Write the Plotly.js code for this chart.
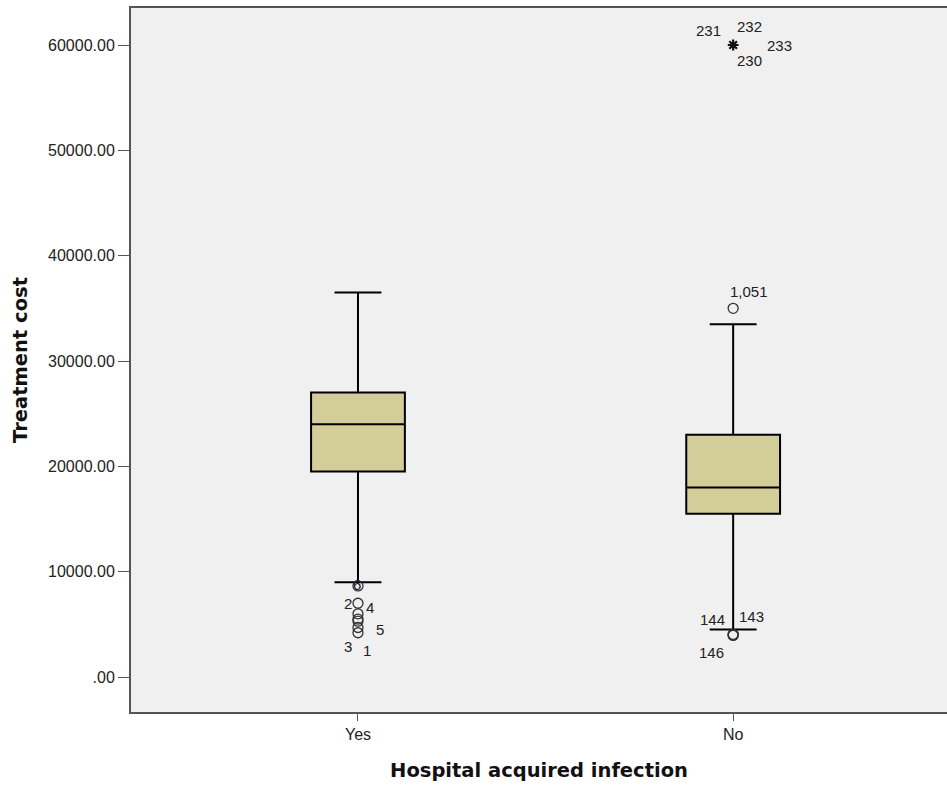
<!DOCTYPE html>
<html>
<head>
<meta charset="utf-8">
<script src="https://cdn.plot.ly/plotly-3.0.1.min.js"></script>
<style>html,body{margin:0;padding:0;background:#fff;}#chart{width:947px;height:785px;}</style>
</head>
<body>
<div id="chart"></div>
<script>
// ---- data ----
const categories = ["Yes", "No"];
const q1Values = [19500, 15500];
const medianValues = [24000, 18000];
const q3Values = [27000, 23000];
const lowerWhisker = [9000, 4500];
const upperWhisker = [36500, 33500];

// mild outliers (circles)
const outlierCategory = ["Yes", "Yes", "Yes", "Yes", "Yes", "Yes", "Yes", "No", "No", "No", "No"];
const outlierValues = [8650, 7000, 6000, 5500, 5300, 4700, 4200, 35000, 4000, 3950, 4050];

// extreme outliers (stars)
const extremeCategory = ["No"];
const extremeValues = [60000];

// case labels
const labelText = ["6", "2", "4", "5", "3", "1", "1,051", "144", "143", "146", "231", "232", "233", "230"];
const labelCategory = ["Yes", "Yes", "Yes", "Yes", "Yes", "Yes", "No", "No", "No", "No", "No", "No", "No", "No"];
const labelValue = [8650, 7000, 7000, 4700, 4200, 4200, 35000, 4000, 4000, 4000, 60000, 60000, 60000, 60000];

// ---- label offsets (layout only) ----
const labelShiftX = [-1, -10, 12, 22, -10, 9, 16, -21, 18, -22, -25, 16, 46, 16];
const labelShiftY = [1, 0, -4, -2, -14, -18, 17, 15, 18, -18, 15, 19, 0, -15];

const boxTrace = {
  type: "box",
  x: categories,
  q1: q1Values,
  median: medianValues,
  q3: q3Values,
  lowerfence: lowerWhisker,
  upperfence: upperWhisker,
  boxpoints: false,
  width: 0.25,
  whiskerwidth: 0.5,
  fillcolor: "#d3cd99",
  line: {color: "#000000", width: 2},
  hoverinfo: "skip",
  showlegend: false
};

const outlierTrace = {
  type: "scatter",
  mode: "markers",
  x: outlierCategory,
  y: outlierValues,
  marker: {symbol: "circle-open", size: 10, color: "#333333", line: {width: 1.3, color: "#333333"}},
  showlegend: false,
  hoverinfo: "skip"
};

const extremeTrace = {
  type: "scatter",
  mode: "markers",
  x: extremeCategory,
  y: extremeValues,
  marker: {symbol: "asterisk-open", size: 9, color: "#111111", line: {width: 2.2, color: "#111111"}},
  showlegend: false,
  hoverinfo: "skip"
};

const labelFont = "Arial, Liberation Sans, sans-serif";
const titleFont = "DejaVu Sans, Verdana, sans-serif";

const annotations = labelText.map((t, i) => ({
  x: labelCategory[i],
  y: labelValue[i],
  xref: "x",
  yref: "y",
  text: t,
  showarrow: false,
  xshift: labelShiftX[i],
  yshift: labelShiftY[i],
  font: {family: labelFont, size: 15, color: "#222222"}
}));

const layout = {
  width: 947,
  height: 785,
  margin: {l: 131, r: 0, t: 8, b: 73},
  paper_bgcolor: "#ffffff",
  plot_bgcolor: "#f0f0f0",
  showlegend: false,
  xaxis: {
    type: "category",
    categoryorder: "array",
    categoryarray: categories,
    range: [-0.605, 1.57],
    showgrid: false,
    zeroline: false,
    showline: true,
    mirror: true,
    linecolor: "#555555",
    linewidth: 2,
    ticks: "outside",
    ticklen: 7,
    tickcolor: "#555555",
    tickfont: {family: labelFont, size: 16, color: "#222222"},
    title: {text: "Hospital acquired infection", standoff: 21,
            font: {family: titleFont, size: 19.5, color: "#111111", weight: "bold"}}
  },
  yaxis: {
    range: [-3323, 63514],
    tickvals: [0, 10000, 20000, 30000, 40000, 50000, 60000],
    ticktext: [".00", "10000.00", "20000.00", "30000.00", "40000.00", "50000.00", "60000.00"],
    showgrid: false,
    zeroline: false,
    showline: true,
    mirror: true,
    linecolor: "#555555",
    linewidth: 2,
    ticks: "outside",
    ticklen: 11,
    tickcolor: "#555555",
    tickfont: {family: labelFont, size: 16, color: "#222222"},
    title: {text: "Treatment cost", standoff: 15,
            font: {family: titleFont, size: 19.5, color: "#111111", weight: "bold"}}
  },
  annotations: annotations
};

Plotly.newPlot("chart", [boxTrace, outlierTrace, extremeTrace], layout, {staticPlot: true, displayModeBar: false});
</script>
</body>
</html>
